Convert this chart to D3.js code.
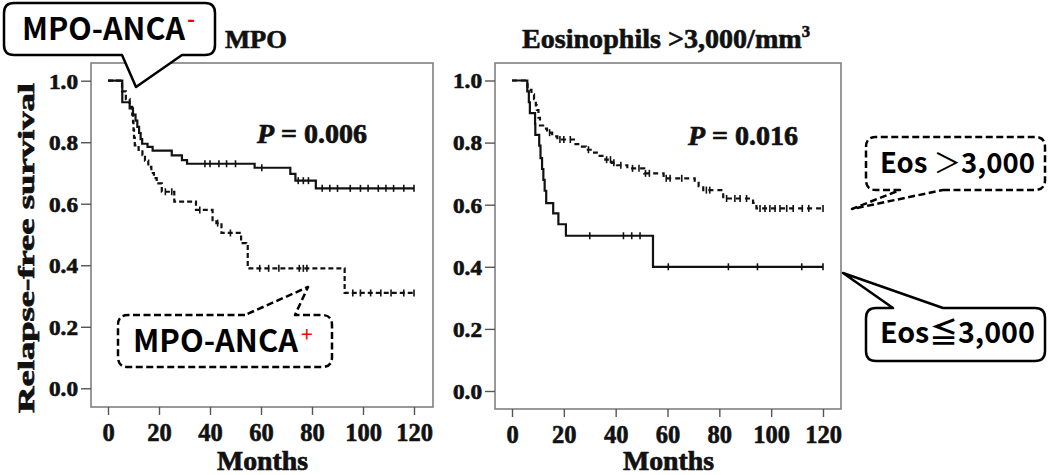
<!DOCTYPE html>
<html><head><meta charset="utf-8">
<script src="https://cdn.jsdelivr.net/npm/d3@7"></script>
<style>body{margin:0;background:#fff} svg{display:block}</style>
</head><body><svg id="c" width="1048" height="475"></svg>
<script>
// ---------- data ----------
const xTicks = [0, 20, 40, 60, 80, 100, 120];
const yTicks = [0.0, 0.2, 0.4, 0.6, 0.8, 1.0];
const panelTitles = ["MPO", "Eosinophils >3,000/mm"];
const pValues = ["0.006", "0.016"];
const yLabel = "Relapse-free survival";
const xLabel = "Months";

// Panel 1 : MPO-ANCA negative (solid)
const mpoNegTimes = [5.6, 8.5, 9.8, 10.8, 11.5, 12.2, 12.8, 13.4, 15.5, 17.5, 25, 29, 31, 57.5, 71.5, 73.5, 81.5];
const mpoNegSurv  = [0.93, 0.91, 0.89, 0.87, 0.85, 0.83, 0.81, 0.795, 0.785, 0.773, 0.757, 0.742, 0.73, 0.717, 0.697, 0.675, 0.65];
const mpoNegCensor = [38, 40, 43.5, 46.5, 50, 60.3, 74.6, 76.6, 78.6, 84, 87, 90, 95, 99, 102, 106, 109, 112, 116, 120];
// Panel 1 : MPO-ANCA positive (dashed)
const mpoPosTimes = [5.5, 7, 8.5, 9.5, 9.8, 10.0, 10.2, 10.5, 12, 13.5, 14.5, 15.8, 17, 18, 19.1, 21.1, 26, 34.5, 41, 42.5, 44.5, 52.2, 54.2, 54.8, 92.8];
const mpoPosSurv  = [0.965, 0.94, 0.915, 0.89, 0.865, 0.84, 0.815, 0.79, 0.775, 0.758, 0.74, 0.72, 0.70, 0.683, 0.666, 0.639, 0.607, 0.58, 0.547, 0.537, 0.505, 0.472, 0.466, 0.39, 0.31];
const mpoPosCensor = [22.5, 25, 36, 43, 48, 59.5, 63, 67, 75, 76.6, 78, 96, 99, 103, 107, 111, 116, 120];

// Panel 2 : Eos <= 3,000 (solid)
const eosLowTimes = [5.9, 6.5, 6.9, 8.9, 9.0, 10.5, 11.0, 11.6, 12.1, 12.6, 13.2, 15.9, 17.9, 20.8, 54.4];
const eosLowSurv  = [0.965, 0.93, 0.895, 0.86, 0.825, 0.79, 0.75, 0.715, 0.68, 0.645, 0.605, 0.572, 0.537, 0.50, 0.40];
const eosLowCensor = [30, 43, 46.2, 49.4, 60.3, 83.5, 94.7, 111.8, 120];
// Panel 2 : Eos > 3,000 (dashed)
const eosHighTimes = [6, 7.5, 8.5, 9.2, 9.6, 10.2, 10.8, 12, 13.5, 15.5, 17.5, 24.5, 26, 28.5, 31, 32.7, 36, 38.5, 40.5, 44.5, 51, 58.5, 70.5, 72, 73.8, 81.5, 93, 94.3];
const eosHighSurv  = [0.97, 0.955, 0.94, 0.92, 0.905, 0.88, 0.855, 0.845, 0.832, 0.82, 0.81, 0.795, 0.787, 0.777, 0.768, 0.757, 0.745, 0.735, 0.727, 0.717, 0.701, 0.685, 0.67, 0.66, 0.647, 0.62, 0.606, 0.588];
const eosHighCensor = [14.5, 18.5, 20, 22.5, 29.5, 36.5, 38, 39.3, 42, 46.5, 49, 51.5, 53, 59.5, 61, 65.5, 75, 76.3, 82.8, 86, 88, 90.5, 95.7, 97.6, 99.5, 101.5, 103.4, 106, 108.5, 112, 114.5, 120];

// ---------- drawing ----------
const svg = d3.select("#c");
const SERIF = "'Liberation Serif','Times New Roman',serif";
const SANS = "'Noto Sans CJK JP','Noto Sans',sans-serif";
const INK = "#111";

function heavy(sel, w) {  // thicken serif glyphs a bit, like the reference
  return sel.attr("stroke", INK).attr("stroke-width", w).attr("paint-order", "stroke");
}

const panels = [
  {frame:[91,433,63,407], xr:[108,414], yr:[388.3,80.7], title:panelTitles[0], titleX:225, titleW:62,
   p:pValues[0], pX:257, pY:143, monthsX:217,
   series:[
     {t:mpoNegTimes, s:mpoNegSurv, c:mpoNegCensor, dash:null},
     {t:mpoPosTimes, s:mpoPosSurv, c:mpoPosCensor, dash:"5,3"}
   ], ylabel:true},
  {frame:[495,841,63,409], xr:[512,823], yr:[391,80.5], title:panelTitles[1], titleX:522, titleW:288,
   p:pValues[1], pX:688, pY:145, monthsX:623,
   series:[
     {t:eosLowTimes, s:eosLowSurv, c:eosLowCensor, dash:null},
     {t:eosHighTimes, s:eosHighSurv, c:eosHighCensor, dash:"5,4"}
   ], ylabel:false}
];

panels.forEach((P, pi) => {
  const x = d3.scaleLinear().domain([0,120]).range(P.xr);
  const y = d3.scaleLinear().domain([0,1]).range(P.yr);
  const [fx0,fx1,fy0,fy1] = P.frame;
  const g = svg.append("g");

  g.append("rect").attr("x",fx0).attr("y",fy0).attr("width",fx1-fx0).attr("height",fy1-fy0)
    .attr("fill","none").attr("stroke","#808080").attr("stroke-width",1.6);

  // y axis
  const ya = g.append("g").attr("transform",`translate(${fx0},0)`)
    .call(d3.axisLeft(y).tickValues(yTicks).tickFormat(d3.format(".1f")).tickSize(10).tickPadding(3));
  ya.select(".domain").remove();
  ya.selectAll("line").attr("stroke","#555").attr("stroke-width",1.4);
  heavy(ya.selectAll("text").attr("font-family",SERIF).attr("font-weight","bold").attr("font-size",20.5)
    .attr("fill",INK).attr("textLength",29).attr("lengthAdjust","spacingAndGlyphs").attr("dy","0.36em"), 0.6);

  // x axis
  const xa = g.append("g").attr("transform",`translate(0,${fy1})`)
    .call(d3.axisBottom(x).tickValues(xTicks).tickFormat(d3.format("d")).tickSize(8).tickPadding(9));
  xa.select(".domain").remove();
  xa.selectAll("line").attr("stroke","#555").attr("stroke-width",1.4);
  heavy(xa.selectAll("text").attr("font-family",SERIF).attr("font-weight","bold").attr("font-size",24.5).attr("fill",INK), 0.6);

  // curves
  const line = d3.line().x(d=>x(d[0])).y(d=>y(d[1])).curve(d3.curveStepAfter);
  P.series.forEach(S => {
    const pts = [[0,1]];
    S.t.forEach((t,i)=>pts.push([t,S.s[i]]));
    pts.push([120, S.s[S.s.length-1]]);
    g.append("path").attr("d",line(pts)).attr("fill","none").attr("stroke",INK)
      .attr("stroke-width",2.2).attr("stroke-dasharray",S.dash);
    const survAt = c => { let v=1; S.t.forEach((t,i)=>{ if (t<=c) v=S.s[i]; }); return v; };
    g.selectAll(null).data(S.c).enter().append("line")
      .attr("x1",d=>x(d)).attr("x2",d=>x(d))
      .attr("y1",d=>y(survAt(d))-3.5).attr("y2",d=>y(survAt(d))+3.5)
      .attr("stroke",INK).attr("stroke-width",1.6);
  });

  // title
  const tt = heavy(g.append("text").attr("x",P.titleX).attr("y",48).attr("font-family",SERIF)
    .attr("font-weight","bold").attr("font-size",pi===0?25:27).attr("fill",INK)
    .attr("textLength",P.titleW).attr("lengthAdjust","spacingAndGlyphs"), 0.6);
  tt.append("tspan").text(P.title);
  if (pi===1) tt.append("tspan").attr("dy",-11).attr("font-size",16).text("3");

  // p value
  const pt = heavy(g.append("text").attr("x",P.pX).attr("y",P.pY).attr("font-family",SERIF)
    .attr("font-weight","bold").attr("font-size",27).attr("fill",INK)
    .attr("textLength",110).attr("lengthAdjust","spacingAndGlyphs"), 0.7);
  pt.append("tspan").attr("font-style","italic").text("P");
  pt.append("tspan").text(" = " + P.p);

  // x label
  heavy(g.append("text").attr("x",P.monthsX).attr("y",470).attr("font-family",SERIF)
    .attr("font-weight","bold").attr("font-size",27).attr("fill",INK)
    .attr("textLength",91).attr("lengthAdjust","spacingAndGlyphs").text(xLabel), 0.7);

  if (P.ylabel) {
    heavy(g.append("text").attr("transform","translate(34,413) rotate(-90)").attr("font-family",SERIF)
      .attr("font-weight","bold").attr("font-size",23).attr("fill",INK)
      .attr("textLength",330).attr("lengthAdjust","spacingAndGlyphs").text(yLabel), 0.7);
  }
});

// ---------- callouts ----------
function calloutPath(b, side, base, tip) {
  const {x0,y0,x1,y1} = b, r = 10;
  if (side === "bottom") {
    return `M${base[1]},${y1} L${x1-r},${y1} Q${x1},${y1} ${x1},${y1-r} L${x1},${y0+r} Q${x1},${y0} ${x1-r},${y0}` +
      ` L${x0+r},${y0} Q${x0},${y0} ${x0},${y0+r} L${x0},${y1-r} Q${x0},${y1} ${x0+r},${y1} L${base[0]},${y1}` +
      ` L${tip[0]},${tip[1]} Z`;
  }
  return `M${base[0]},${y0} L${x0+r},${y0} Q${x0},${y0} ${x0},${y0+r} L${x0},${y1-r} Q${x0},${y1} ${x0+r},${y1}` +
    ` L${x1-r},${y1} Q${x1},${y1} ${x1},${y1-r} L${x1},${y0+r} Q${x1},${y0} ${x1-r},${y0} L${base[1]},${y0}` +
    ` L${tip[0]},${tip[1]} Z`;
}
const callouts = [
  {b:{x0:4,y0:3,x1:215,y1:55}, side:"bottom", base:[122,182], tip:[136,87], dash:null,
   parts:[{t:"MPO-ANCA", w:"bold"}], tx:22, ty:39.5, tw:163, fs:29, sup:{t:"-", x:187, y:27, fs:22}},
  {b:{x0:118,y0:315,x1:332,y1:367}, side:"top", base:[245,295], tip:[308,287], dash:"7,3.5",
   parts:[{t:"MPO-ANCA", w:"bold"}], tx:133, ty:352, tw:165, fs:29, sup:{t:"+", x:301, y:342, fs:21}},
  {b:{x0:866,y0:137,x1:1045,y1:190}, side:"bottom", base:[900,943], tip:[852,209], dash:"7,3.5",
   parts:[{t:"Eos ", w:"bold"},{t:"＞", w:"normal"},{t:"3,000", w:"bold"}], tx:880, ty:173, tw:155, fs:27},
  {b:{x0:866,y0:308,x1:1045,y1:361}, side:"top", base:[893,943], tip:[843,273], dash:null,
   parts:[{t:"Eos", w:"bold"},{t:"≦", w:"bold"},{t:"3,000", w:"bold"}], tx:880, ty:343, tw:155, fs:27}
];
callouts.forEach(C => {
  svg.append("path").attr("d",calloutPath(C.b,C.side,C.base,C.tip)).attr("fill","#fff")
    .attr("stroke","#000").attr("stroke-width",2.5).attr("stroke-linejoin","round")
    .attr("stroke-dasharray",C.dash);
  const t = svg.append("text").attr("x",C.tx).attr("y",C.ty).attr("font-family",SANS)
    .attr("font-size",C.fs).attr("fill","#000");
  C.parts.forEach(p => t.append("tspan").attr("font-weight",p.w).text(p.t));
  const len = t.node().getComputedTextLength();
  if (len > 0) t.attr("font-size", C.fs * C.tw / len);
  if (C.sup) {
    svg.append("text").attr("x",C.sup.x).attr("y",C.sup.y).attr("font-family",SANS)
      .attr("font-size",C.sup.fs).attr("font-weight",C.sup.t==="-"?"bold":"normal").attr("fill","#ff0000").text(C.sup.t);
  }
});
</script>
</body></html>
